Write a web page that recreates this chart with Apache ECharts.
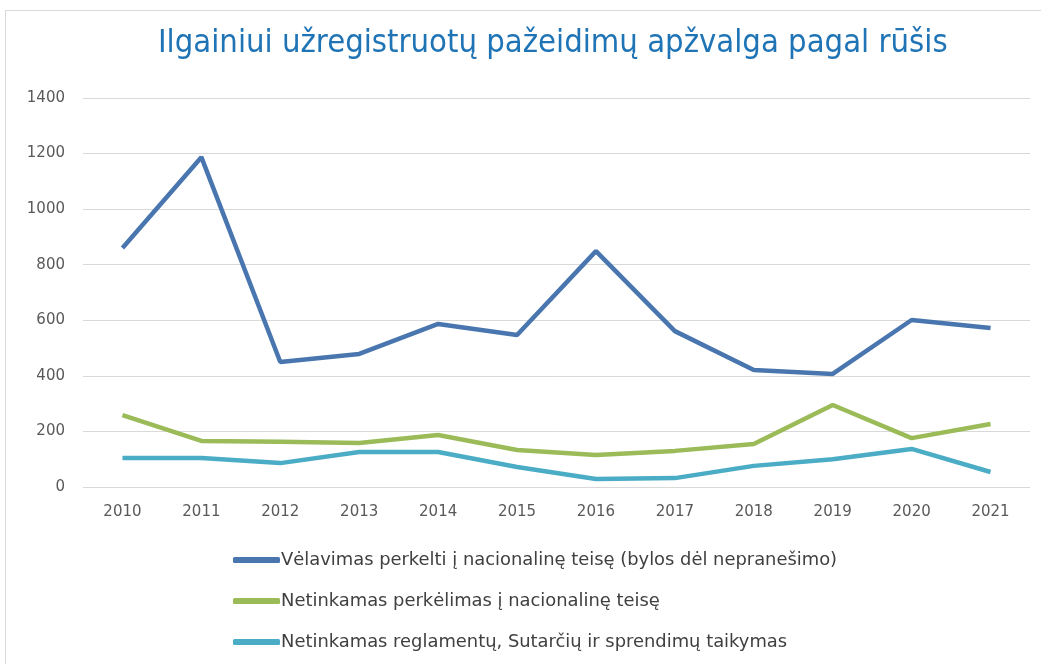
<!DOCTYPE html>
<html><head><meta charset="utf-8">
<script src="https://cdn.jsdelivr.net/npm/echarts@6/dist/echarts.min.js"></script>
<style>
html,body{margin:0;padding:0;background:#fff;}
#frame{position:absolute;left:5px;top:10px;width:1040px;height:660px;border:1px solid #d9d9d9;box-sizing:border-box;}
#c{position:absolute;left:0;top:0;width:1041px;height:664px;}
</style></head>
<body>
<div id="frame"></div>
<div id="c"></div>
<script>
const years = ['2010','2011','2012','2013','2014','2015','2016','2017','2018','2019','2020','2021'];
const lateTransposition = [860,1187,450,479,587,547,849,561,421,407,601,572];
const incorrectTransposition = [259,166,163,158,187,133,115,130,155,295,176,227];
const incorrectApplication = [104,104,86,126,126,72,29,32,76,100,137,54];
const seriesNames = [
  'Vėlavimas perkelti į nacionalinę teisę (bylos dėl nepranešimo)',
  'Netinkamas perkėlimas į nacionalinę teisę',
  'Netinkamas reglamentų, Sutarčių ir sprendimų taikymas'
];
const colors = ['#4a76b0','#9bbb59','#4bacc6'];
const chart = echarts.init(document.getElementById('c'));
const mk = (name, data, color) => ({
  name, type:'line', data, showSymbol:false, symbol:'none',
  lineStyle:{width:4.5,color}, itemStyle:{color}, animation:false
});
chart.setOption({
  animation:false,
  title:{text:'Ilgainiui užregistruotų pažeidimų apžvalga pagal rūšis',left:153,top:22,
    textStyle:{fontFamily:'DejaVu Sans Condensed',fontSize:32.5,fontWeight:'normal',color:'#1f74b6'}},
  grid:{left:83,right:11,top:98,bottom:177,containLabel:false},
  legend:{orient:'vertical',left:228,top:546,itemGap:23,itemWidth:47,itemHeight:6,
    icon:'roundRect',
    textStyle:{fontFamily:'DejaVu Sans',fontSize:17.9,color:'#404040',padding:[0,0,0,-4]},
    data:seriesNames},
  xAxis:{type:'category',data:years,boundaryGap:true,
    axisLine:{show:false},axisTick:{show:false},
    axisLabel:{fontFamily:'DejaVu Sans',fontSize:15,color:'#595959',margin:18}},
  yAxis:{type:'value',min:0,max:1400,interval:200,
    axisLine:{show:false},axisTick:{show:false},
    axisLabel:{fontFamily:'DejaVu Sans',fontSize:15,color:'#595959',margin:18,formatter:v=>String(v)},
    splitLine:{lineStyle:{color:'#d9d9d9',width:1}}},
  series:[
    mk(seriesNames[0], lateTransposition, colors[0]),
    mk(seriesNames[1], incorrectTransposition, colors[1]),
    mk(seriesNames[2], incorrectApplication, colors[2])
  ]
});
</script>
</body></html>
